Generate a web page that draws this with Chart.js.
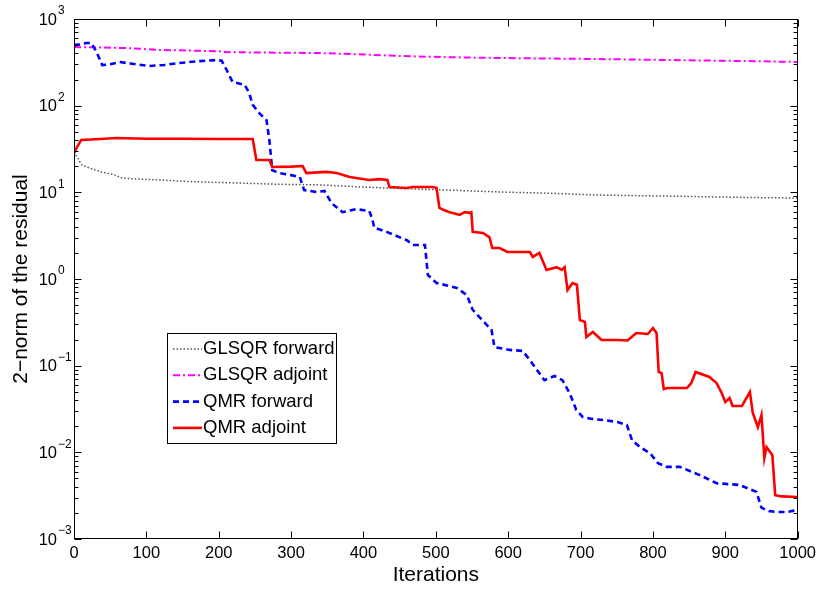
<!DOCTYPE html>
<html>
<head>
<meta charset="utf-8">
<script src="https://cdn.jsdelivr.net/npm/chart.js@4.4.0/dist/chart.umd.min.js"></script>
<style>
  body { margin: 0; background: #fff; }
  #wrap { width: 821px; height: 589px; }
</style>
</head>
<body>
<div id="wrap"><canvas id="line-chart" width="821" height="589"></canvas></div>
<script>
// values: [iteration, residual]
var SERIES_NAMES = ['GLSQR forward', 'GLSQR adjoint', 'QMR forward', 'QMR adjoint'];
var Y_EXPONENTS = [-3, -2, -1, 0, 1, 2, 3];

var glsqrForward = [[0,29],[5,25],[10,21],[18,19.5],[26,18.5],[40,17],[55,16],[67,14.6],[90,14.2],[118,13.9],
  [160,13.3],[229,12.8],[280,12.4],[339,12.2],[400,11.5],[460,11],[520,10.6],[588,10.1],[650,9.8],[726,9.3],
  [800,9.1],[870,8.9],[940,8.7],[1000,8.6]];

var glsqrAdjoint = [[0,475],[30,470],[73,462],[118,440],[160,432],[201,425],[205,416],[260,410],[339,405],
  [400,390],[450,374],[520,362],[588,355],[650,350],[726,345],[800,338],[870,332],[940,326],[1000,319]];

var qmrForward = [[0,500],[8,510],[17,528],[24,528],[31,420],[39,294],[50,300],[63,319],[80,305],[104,287],
  [125,295],[146,311],[170,325],[197,336],[204,330],[211,258],[219,188],[236,173],[242,140],[247,102],
  [256,82],[266,68],[270,40],[274,18],[284,16.7],[300,15.8],[312,15],[318,10.6],[335,10.1],[346,10.4],
  [356,7.5],[371,5.9],[390,6.4],[408,6.1],[412,5.0],[415,3.9],[432,3.5],[460,2.8],[468,2.47],[485,2.47],
  [489,1.11],[501,0.90],[529,0.79],[543,0.65],[551,0.44],[560,0.365],[577,0.258],[581,0.164],[602,0.152],
  [620,0.148],[630,0.116],[650,0.068],[664,0.076],[675,0.068],[685,0.048],[694,0.031],[703,0.0256],
  [716,0.0243],[731,0.0236],[751,0.0224],[764,0.0207],[771,0.0139],[782,0.0115],[796,0.0098],[807,0.0075],
  [819,0.0068],[837,0.0068],[864,0.0055],[888,0.0044],[920,0.0042],[943,0.0035],[950,0.0023],[960,0.0021],
  [971,0.00205],[985,0.00205],[1000,0.00216]];

var qmrAdjoint = [[0,28.4],[4,33],[10,40.2],[30,41],[59,42.4],[100,41.5],[150,41.5],[200,41.3],[247,41.2],
  [252,23.6],[270,23.6],[274,19.6],[300,19.8],[316,20.1],[321,16.7],[349,17.2],[363,16.7],[381,15],
  [408,13.9],[422,14.2],[433,13.9],[436,11.5],[460,11.2],[468,11.5],[496,11.5],[501,11.2],[505,6.6],
  [512,6.2],[519,5.9],[526,5.7],[533,5.5],[540,5.9],[547,5.8],[549,5.9],[551,3.5],[565,3.4],[574,3.05],
  [578,2.28],[588,2.28],[599,2.05],[630,2.05],[634,1.8],[643,2.0],[653,1.27],[667,1.37],[674,1.27],
  [678,1.37],[682,0.746],[689,0.9],[695,0.86],[699,0.336],[706,0.32],[708,0.214],[717,0.245],[729,0.198],
  [751,0.198],[765,0.195],[777,0.238],[793,0.232],[800,0.272],[805,0.238],[808,0.0845],[812,0.082],
  [815,0.0538],[820,0.0552],[847,0.0552],[853,0.063],[859,0.0845],[878,0.074],[888,0.063],[895,0.0484],
  [900,0.038],[906,0.0424],[910,0.0343],[923,0.0343],[934,0.0497],[938,0.0284],[945,0.0196],[950,0.027],
  [954,0.0086],[957,0.0115],[965,0.0093],[969,0.0032],[978,0.0031],[1000,0.00305]];

var FONT = "'Liberation Sans', Arial, sans-serif";

function toPoints(arr) {
    return arr.map(function(p) { return {x: p[0], y: p[1]}; });
}

// box, inward ticks, 10^n labels and the legend, MATLAB style
var matlabAxes = {
    id: 'matlabAxes',
    afterDraw: function(chart) {
        var ctx = chart.ctx;
        var area = chart.chartArea;
        var xs = chart.scales.x, ys = chart.scales.y;
        var L = Math.round(area.left) + 0.5, R = Math.round(area.right) - 0.5;
        var T = Math.round(area.top) + 0.5, B = Math.round(area.bottom) - 0.5;
        ctx.save();
        ctx.strokeStyle = '#000';
        ctx.lineWidth = 1;
        ctx.beginPath();
        xs.ticks.forEach(function(t) {
            var px = Math.round(xs.getPixelForValue(t.value)) + 0.5;
            ctx.moveTo(px, B); ctx.lineTo(px, B - 7);
            ctx.moveTo(px, T); ctx.lineTo(px, T + 7);
        });
        Y_EXPONENTS.forEach(function(e) {
            for (var m = 1; m <= 9; m++) {
                var v = m * Math.pow(10, e);
                if (v > 1000.0001) break;
                var py = Math.round(ys.getPixelForValue(v)) + 0.5;
                var len = (m == 1) ? 7 : 4;
                ctx.moveTo(L, py); ctx.lineTo(L + len, py);
                ctx.moveTo(R, py); ctx.lineTo(R - len, py);
            }
        });
        ctx.stroke();
        ctx.strokeRect(L, T, R - L, B - T);

        // y tick labels
        ctx.fillStyle = '#000';
        ctx.textBaseline = 'middle';
        Y_EXPONENTS.forEach(function(e) {
            var py = ys.getPixelForValue(Math.pow(10, e));
            ctx.font = '16.5px ' + FONT;
            ctx.textAlign = 'right';
            ctx.fillText('10', area.left - 17, py + 1);
            ctx.font = '12px ' + FONT;
            ctx.textAlign = 'left';
            ctx.fillText(e < 0 ? '\u2212' + (-e) : String(e), area.left - 16, py - 8);
        });

        // legend
        var bx = 167.5, by = 333.5, bw = 169, bh = 110;
        ctx.fillStyle = '#fff';
        ctx.fillRect(bx, by, bw, bh);
        ctx.strokeStyle = '#000';
        ctx.lineWidth = 1;
        ctx.strokeRect(bx, by, bw, bh);
        ctx.font = '18.5px ' + FONT;
        ctx.textAlign = 'left';
        chart.data.datasets.forEach(function(ds, i) {
            var cy = 349 + i * 26.3;
            ctx.strokeStyle = ds.borderColor;
            ctx.lineWidth = ds.borderWidth;
            ctx.setLineDash(ds.borderDash || []);
            ctx.beginPath();
            ctx.moveTo(173, cy); ctx.lineTo(202, cy);
            ctx.stroke();
            ctx.setLineDash([]);
            ctx.fillStyle = '#000';
            ctx.fillText(ds.label, 203, cy);
        });
        ctx.restore();
    }
};

function drawChart() {
    return new Chart(document.getElementById('line-chart'), {
        type: 'line',
        data: {
            datasets: [{
                label: SERIES_NAMES[0],
                data: toPoints(glsqrForward),
                borderColor: '#555555',
                borderWidth: 1.5,
                borderDash: [1.5, 2],
                order: 4
            }, {
                label: SERIES_NAMES[1],
                data: toPoints(glsqrAdjoint),
                borderColor: '#ff00ff',
                borderWidth: 2,
                borderDash: [7, 3, 2, 3],
                order: 3
            }, {
                label: SERIES_NAMES[2],
                data: toPoints(qmrForward),
                borderColor: '#0000ff',
                borderWidth: 2.6,
                borderDash: [6, 4],
                order: 2
            }, {
                label: SERIES_NAMES[3],
                data: toPoints(qmrAdjoint),
                borderColor: '#ff0000',
                borderWidth: 2.6,
                order: 1
            }]
        },
        options: {
            responsive: false,
            animation: false,
            events: [],
            elements: { point: { radius: 0 }, line: { tension: 0, fill: false } },
            layout: { padding: { left: 0, right: 23, top: 19, bottom: 0 } },
            plugins: { legend: { display: false }, tooltip: { enabled: false } },
            scales: {
                x: {
                    type: 'linear',
                    min: 0,
                    max: 1000,
                    grid: { display: false, drawTicks: false },
                    border: { display: false },
                    ticks: { stepSize: 100, color: '#000', padding: 5, maxRotation: 0,
                             font: { family: FONT, size: 16.5 },
                             callback: function(v) { return String(v); } },
                    title: { display: true, text: 'Iterations', color: '#000',
                             font: { family: FONT, size: 21 }, padding: { top: 0, bottom: 1 } },
                    afterFit: function(scale) { scale.height = 50; }
                },
                y: {
                    type: 'logarithmic',
                    min: 1e-3,
                    max: 1e3,
                    grid: { display: false, drawTicks: false },
                    border: { display: false },
                    ticks: { display: false },
                    title: { display: true, text: '2\u2212norm of the residual', color: '#000',
                             font: { family: FONT, size: 21 }, padding: { top: 9, bottom: 0 } },
                    afterFit: function(scale) { scale.width = 74; }
                }
            }
        },
        plugins: [matlabAxes]
    });
}

var chart = drawChart();
</script>
</body>
</html>
